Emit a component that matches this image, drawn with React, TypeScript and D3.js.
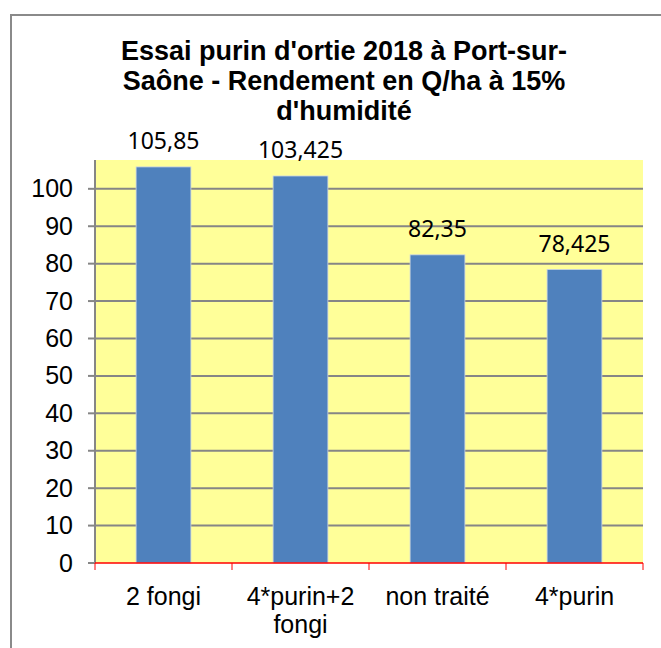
import * as d3 from 'd3';

const categories = ['2 fongi', '4*purin+2 fongi', 'non traité', '4*purin'];
const categoryLines = [['2 fongi'], ['4*purin+2', 'fongi'], ['non traité'], ['4*purin']];
const values = [105.85, 103.425, 82.35, 78.425];
const valueLabels = ['105,85', '103,425', '82,35', '78,425'];
const yTicks = [0, 10, 20, 30, 40, 50, 60, 70, 80, 90, 100];
const titleLines = [
  "Essai purin d'ortie 2018 à Port-sur-",
  'Saône - Rendement en Q/ha à 15%',
  "d'humidité",
];

const W = 661;
const H = 648;
const plot = { left: 95, right: 643, top: 160, bottom: 563 };

export default function App() {
  const x = d3
    .scaleBand<string>()
    .domain(categories)
    .range([plot.left, plot.right])
    .paddingInner(0.6)
    .paddingOuter(0.3);

  const y = d3.scaleLinear().domain([0, 107.7]).range([plot.bottom, plot.top]);

  const band = d3.scaleBand<string>().domain(categories).range([plot.left, plot.right]);
  const xTickPos = categories.map((c) => band(c)!).concat([plot.right]);

  return (
    <div style={{ position: 'absolute', left: 0, top: 0 }}>
      <svg width={W} height={H} style={{ display: 'block' }}>
        <rect x={0} y={0} width={W} height={H} fill="#fff" />
        {/* outer chart border */}
        <line x1={11} y1={15} x2={W} y2={15} stroke="#8a8a8a" strokeWidth={2} />
        <line x1={11} y1={14} x2={11} y2={H} stroke="#8a8a8a" strokeWidth={2} />

        {/* title */}
        <g fontFamily="'Liberation Sans', Arial, sans-serif" fontWeight="bold" fontSize={27} fill="#000" textAnchor="middle">
          {titleLines.map((t, i) => (
            <text key={i} x={344} y={60 + i * 30}>
              {t}
            </text>
          ))}
        </g>

        {/* plot background */}
        <rect
          x={plot.left}
          y={plot.top}
          width={plot.right - plot.left}
          height={plot.bottom - plot.top}
          fill="#FFFF99"
        />

        {/* gridlines */}
        {yTicks.slice(1).map((t) => (
          <line key={t} x1={plot.left} x2={plot.right} y1={y(t)} y2={y(t)} stroke="#868686" strokeWidth={2} />
        ))}

        {/* bars */}
        {categories.map((c, i) => (
          <rect
            key={c}
            x={x(c)}
            y={y(values[i])}
            width={x.bandwidth()}
            height={y(0) - y(values[i])}
            fill="#4F81BD"
            stroke="#c9d3e3"
            strokeWidth={0.8}
          />
        ))}

        {/* value labels */}
        <g fontFamily="'Noto Sans', 'Open Sans', sans-serif" fontSize={23} fill="#000" textAnchor="middle">
          {categories.map((c, i) => (
            <text key={c} x={x(c)! + x.bandwidth() / 2} y={y(values[i]) - 18}>
              {valueLabels[i]}
            </text>
          ))}
        </g>

        {/* y axis */}
        <line x1={plot.left} x2={plot.left} y1={plot.top} y2={plot.bottom} stroke="#868686" strokeWidth={2} />
        {yTicks.map((t) => (
          <g key={t}>
            <line x1={plot.left - 7} x2={plot.left} y1={y(t)} y2={y(t)} stroke="#868686" strokeWidth={2} />
            <text
              x={73}
              y={y(t) + 8.5}
              textAnchor="end"
              fontFamily="'Liberation Sans', Arial, sans-serif"
              fontSize={25}
              fill="#000"
            >
              {t}
            </text>
          </g>
        ))}

        {/* x axis */}
        <line x1={plot.left} x2={plot.right} y1={plot.bottom} y2={plot.bottom} stroke="#ff0000" strokeWidth={1.5} />
        {xTickPos.map((p, i) => (
          <line key={i} x1={p} x2={p} y1={plot.bottom} y2={plot.bottom + 7} stroke="#ff0000" strokeWidth={1} />
        ))}
        <g fontFamily="'Liberation Sans', Arial, sans-serif" fontSize={25} fill="#000" textAnchor="middle">
          {categories.map((c, i) =>
            categoryLines[i].map((l, j) => (
              <text key={c + j} x={band(c)! + band.bandwidth() / 2} y={605 + j * 28}>
                {l}
              </text>
            ))
          )}
        </g>
      </svg>
    </div>
  );
}
